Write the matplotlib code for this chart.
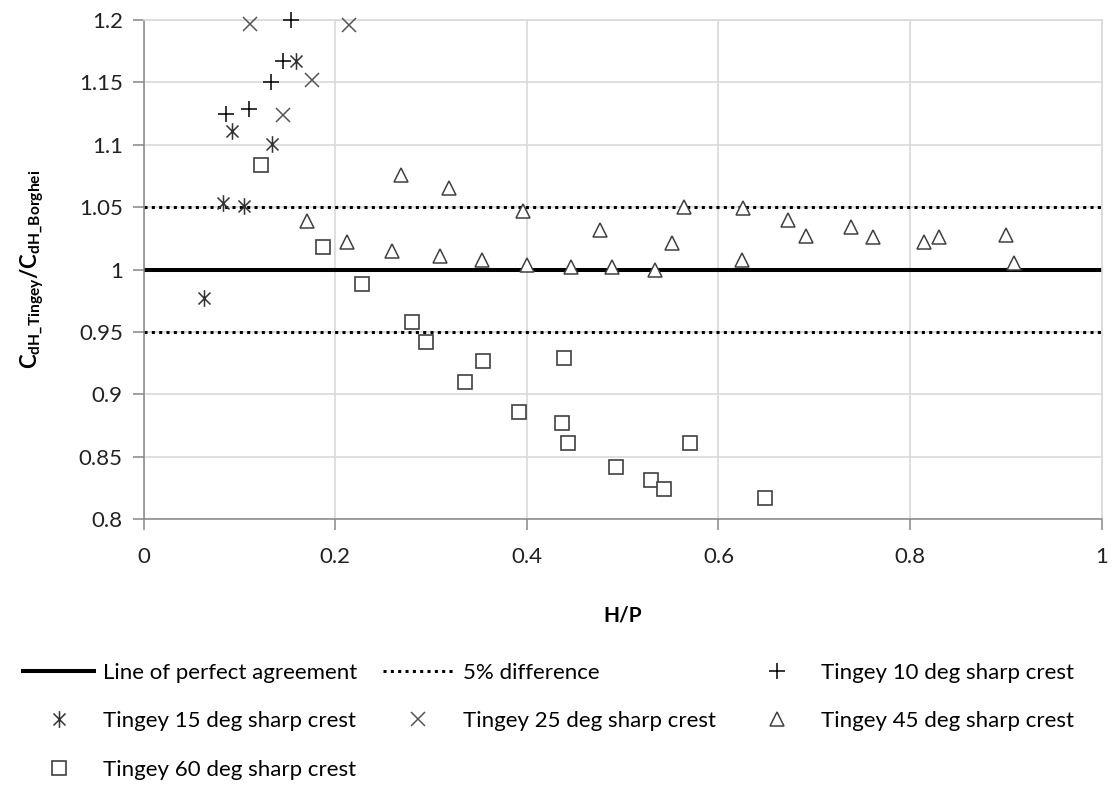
import matplotlib
matplotlib.use("Agg")
import matplotlib.pyplot as plt
from matplotlib.lines import Line2D
from matplotlib.path import Path
import numpy as np

plt.rcParams['font.family'] = ['Lato', 'DejaVu Sans']
plt.rcParams['mathtext.fontset'] = 'custom'
plt.rcParams['mathtext.rm'] = 'Lato'
plt.rcParams['mathtext.bf'] = 'Lato:bold'
plt.rcParams['mathtext.it'] = 'Lato:italic'

# H/P and Cd ratio for each crest angle
hp_10 = [0.154, 0.145, 0.133, 0.110, 0.086]
cd_10 = [1.200, 1.167, 1.150, 1.129, 1.125]

hp_15 = [0.159, 0.092, 0.134, 0.083, 0.105, 0.063]
cd_15 = [1.167, 1.111, 1.101, 1.053, 1.051, 0.977]

hp_25 = [0.111, 0.214, 0.176, 0.145]
cd_25 = [1.197, 1.196, 1.152, 1.124]

hp_45 = [0.171, 0.212, 0.269, 0.319, 0.396, 0.564, 0.626, 0.476, 0.551,
         0.259, 0.309, 0.353, 0.400, 0.446, 0.489, 0.534, 0.625, 0.673,
         0.691, 0.738, 0.761, 0.815, 0.830, 0.900, 0.908]
cd_45 = [1.039, 1.022, 1.076, 1.065, 1.047, 1.050, 1.049, 1.032, 1.021,
         1.015, 1.011, 1.008, 1.004, 1.002, 1.002, 1.000, 1.008, 1.040,
         1.027, 1.034, 1.026, 1.022, 1.026, 1.028, 1.005]

hp_60 = [0.122, 0.187, 0.228, 0.280, 0.295, 0.335, 0.354, 0.439, 0.392,
         0.437, 0.443, 0.570, 0.493, 0.530, 0.543, 0.649]
cd_60 = [1.084, 1.018, 0.988, 0.958, 0.942, 0.910, 0.927, 0.929, 0.886,
         0.877, 0.861, 0.861, 0.842, 0.831, 0.824, 0.817]

x_ticks = [0, 0.2, 0.4, 0.6, 0.8, 1.0]
y_ticks = [0.8, 0.85, 0.9, 0.95, 1.0, 1.05, 1.1, 1.15, 1.2]

# asterisk = vertical bar through an x
star = Path([(0, -1), (0, 1), (-0.72, -0.72), (0.72, 0.72), (-0.72, 0.72), (0.72, -0.72)],
            [Path.MOVETO, Path.LINETO, Path.MOVETO, Path.LINETO, Path.MOVETO, Path.LINETO])

fig = plt.figure(figsize=(11.12, 7.87), dpi=100)
ax = fig.add_axes([0.1292, 0.3405, 0.8615, 0.6341])

grid_c = '#d9d9d9'
axis_c = '#868686'

ax.axhline(1.0, color='black', lw=2.9, zorder=2)
ax.axhline(1.05, color='black', lw=2.2, ls=(0, (1, 1.4)), zorder=2)
ax.axhline(0.95, color='black', lw=2.2, ls=(0, (1, 1.4)), zorder=2)

ms = 10
ax.plot(hp_10, cd_10, ls='none', marker='+', ms=ms + 1, mec='black', mew=1.1, zorder=3, clip_on=False)
ax.plot(hp_15, cd_15, ls='none', marker=star, ms=ms + 2, mec='#333333', mew=1.1, zorder=3, clip_on=False)
ax.plot(hp_25, cd_25, ls='none', marker='x', ms=ms, mec='#555555', mew=1.1, zorder=3, clip_on=False)
ax.plot(hp_45, cd_45, ls='none', marker='^', ms=ms, mfc='white', mec='#404040', mew=1.1, zorder=3)
ax.plot(hp_60, cd_60, ls='none', marker='s', ms=ms - 0.5, mfc='white', mec='#404040', mew=1.2, zorder=3)

ax.set_xlim(0, 1)
ax.set_ylim(0.8, 1.2)
ax.set_xticks(x_ticks)
ax.set_yticks(y_ticks)
ax.set_xticklabels(['%g' % v for v in x_ticks])
ax.set_yticklabels(['%g' % v for v in y_ticks])
ax.grid(True, color=grid_c, lw=1.2, zorder=0)
ax.set_axisbelow(True)
for s in ['top', 'right']:
    ax.spines[s].set_color(grid_c)
    ax.spines[s].set_linewidth(1.2)
for s in ['left', 'bottom']:
    ax.spines[s].set_color(axis_c)
    ax.spines[s].set_linewidth(1.1)
ax.tick_params(axis='both', direction='out', length=8, width=1.1, color=axis_c,
               labelsize=16, labelcolor='#222222')
ax.tick_params(axis='x', pad=12)
ax.tick_params(axis='y', pad=7)

ax.set_xlabel('H/P', fontsize=15, fontweight='bold', labelpad=28)
ax.set_ylabel(r'$\mathbf{C_{dH\_Tingey}/C_{dH\_Borghei}}$', fontsize=16, labelpad=24)

# legend, ordered so rows read left to right
h_line = Line2D([], [], color='black', lw=2.9)
h_dot = Line2D([], [], color='black', lw=2.2, ls=(0, (1, 1.4)))
h_10 = Line2D([], [], ls='none', marker='+', ms=ms + 1, mec='black', mew=1.1)
h_15 = Line2D([], [], ls='none', marker=star, ms=ms + 2, mec='#333333', mew=1.1)
h_25 = Line2D([], [], ls='none', marker='x', ms=ms, mec='#555555', mew=1.1)
h_45 = Line2D([], [], ls='none', marker='^', ms=ms, mfc='white', mec='#404040', mew=1.1)
h_60 = Line2D([], [], ls='none', marker='s', ms=ms - 0.5, mfc='white', mec='#404040', mew=1.2)

handles = [h_line, h_15, h_60, h_dot, h_25, h_10, h_45]
labels = ['Line of perfect agreement', 'Tingey 15 deg sharp crest', 'Tingey 60 deg sharp crest',
          '5% difference', 'Tingey 25 deg sharp crest',
          'Tingey 10 deg sharp crest', 'Tingey 45 deg sharp crest']
fig.legend(handles, labels, loc='upper left', bbox_to_anchor=(0.0207, 0.158), ncol=3,
           frameon=False, fontsize=16, handlelength=3.2, handletextpad=0.4,
           columnspacing=1.15, labelspacing=1.28, borderpad=0, borderaxespad=0)

fig.savefig('out.png', dpi=100)
